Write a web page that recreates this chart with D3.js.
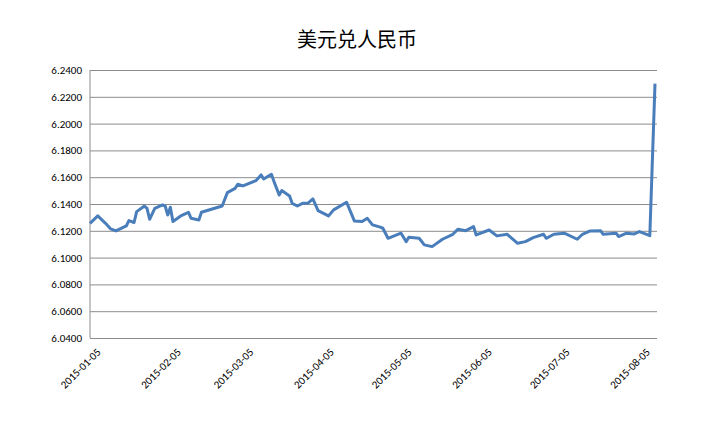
<!DOCTYPE html>
<html><head><meta charset="utf-8">
<script src="https://cdn.jsdelivr.net/npm/d3@7"></script>
<style>body{margin:0;background:#fff}</style></head>
<body><svg id="c" width="703" height="428"></svg>
<script>
const title = "美元兑人民币";
const dates = ["2015-01-05","2015-01-08","2015-01-11","2015-01-13","2015-01-15","2015-01-19","2015-01-20","2015-01-22","2015-01-23","2015-01-26","2015-01-27","2015-01-28","2015-01-30","2015-02-02","2015-02-03","2015-02-04","2015-02-05","2015-02-06","2015-02-09","2015-02-12","2015-02-13","2015-02-16","2015-02-17","2015-02-25","2015-02-27","2015-03-02","2015-03-03","2015-03-05","2015-03-10","2015-03-12","2015-03-13","2015-03-16","2015-03-17","2015-03-19","2015-03-20","2015-03-23","2015-03-24","2015-03-26","2015-03-28","2015-03-30","2015-04-01","2015-04-03","2015-04-07","2015-04-09","2015-04-14","2015-04-17","2015-04-20","2015-04-22","2015-04-24","2015-04-27","2015-04-28","2015-04-30","2015-05-05","2015-05-07","2015-05-08","2015-05-12","2015-05-14","2015-05-17","2015-05-21","2015-05-25","2015-05-27","2015-05-30","2015-06-02","2015-06-03","2015-06-08","2015-06-11","2015-06-15","2015-06-19","2015-06-22","2015-06-25","2015-06-29","2015-06-30","2015-07-03","2015-07-07","2015-07-12","2015-07-14","2015-07-17","2015-07-21","2015-07-22","2015-07-27","2015-07-28","2015-07-31","2015-08-03","2015-08-05","2015-08-09","2015-08-11"];
const rates = [6.1256,6.1311,6.1256,6.1214,6.1199,6.1236,6.1276,6.1262,6.1343,6.1385,6.1368,6.1286,6.1368,6.1393,6.1385,6.1318,6.1376,6.1269,6.1311,6.1338,6.1293,6.1281,6.1338,6.1385,6.1485,6.1517,6.1547,6.1535,6.1574,6.1617,6.1587,6.1622,6.1567,6.1467,6.1500,6.1460,6.1405,6.1385,6.1405,6.1405,6.1438,6.1350,6.1311,6.1356,6.1413,6.1274,6.1269,6.1293,6.1244,6.1227,6.1219,6.1144,6.1182,6.1119,6.1152,6.1144,6.1095,6.1082,6.1137,6.1174,6.1212,6.1201,6.1231,6.1169,6.1206,6.1162,6.1174,6.1107,6.1119,6.1149,6.1174,6.1144,6.1174,6.1182,6.1137,6.1174,6.1199,6.1201,6.1174,6.1182,6.1157,6.1182,6.1177,6.1194,6.1164,6.2298];
const yTicks = [6.04,6.06,6.08,6.10,6.12,6.14,6.16,6.18,6.20,6.22,6.24];
const xTickLabels = ["2015-01-05","2015-02-05","2015-03-05","2015-04-05","2015-05-05","2015-06-05","2015-07-05","2015-08-05"];

const parse = d3.timeParse("%Y-%m-%d");
const svg = d3.select("#c");
const L=90,R=655,T=70,B=338;
const x = d3.scaleTime().domain([parse("2015-01-05"),parse("2015-08-11")]).range([L,R]);
const y = d3.scaleLinear().domain([6.04,6.24]).range([B,T]);
const font = "Calibri, 'Liberation Sans', Arial, sans-serif";

svg.append("text").attr("x",357).attr("y",47).attr("text-anchor","middle")
  .attr("font-family","'Noto Sans CJK SC', sans-serif").attr("font-size",20).attr("fill","#000").text(title);

const ya = svg.append("g").attr("transform",`translate(${L},0)`)
  .call(d3.axisLeft(y).tickValues(yTicks).tickFormat(d3.format(".4f")).tickSize(-(R+2-L)).tickPadding(8));
ya.select(".domain").remove();
ya.selectAll("line").attr("stroke","#8c8c8c");
ya.selectAll("text").attr("font-family",font).attr("font-size",11).attr("fill","#000");
svg.append("line").attr("x1",L).attr("x2",L).attr("y1",T).attr("y2",B).attr("stroke","#8c8c8c");

const xa = svg.append("g").attr("transform",`translate(0,${B})`)
  .call(d3.axisBottom(x).tickValues(xTickLabels.map(parse)).tickFormat(d3.timeFormat("%Y-%m-%d")).tickSize(0));
xa.select(".domain").remove();
xa.selectAll("text").attr("font-family",font).attr("font-size",11).attr("fill","#000")
  .attr("text-anchor","end").attr("transform","translate(6,10) rotate(-45)").attr("dy","0.35em");

const line = d3.line().x((d,i)=>x(parse(dates[i]))).y(d=>y(d));
svg.append("path").datum(rates).attr("d",line).attr("fill","none")
  .attr("stroke","#4a7ebb").attr("stroke-width",3).attr("stroke-linejoin","round");
</script></body></html>
